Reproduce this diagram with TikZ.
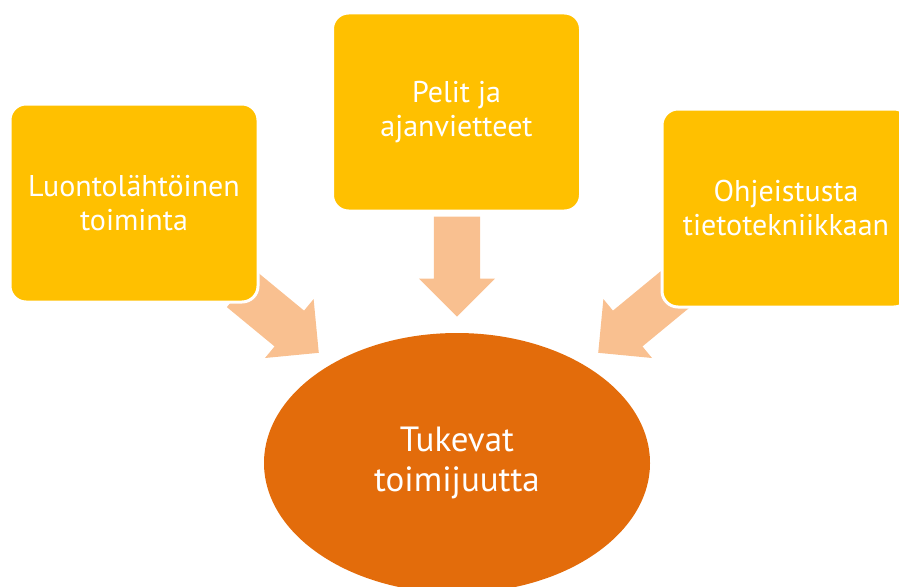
\documentclass[tikz,border=0pt]{standalone}
\usepackage{fontspec}
\setmainfont{PT Sans}
\usetikzlibrary{shapes.geometric, shapes.arrows}
\definecolor{boxyellow}{HTML}{FFC000}
\definecolor{flowpeach}{HTML}{F9C090}
\definecolor{coreorange}{HTML}{E36C0B}

\begin{document}
\begin{tikzpicture}[x=1pt, y=-1pt,
  box/.style={rectangle, rounded corners=16pt, fill=boxyellow, draw=white, line width=3pt,
    minimum width=248pt, minimum height=198pt, align=center, text=white,
    font=\fontsize{30}{34}\selectfont},
  core/.style={ellipse, fill=coreorange, minimum width=386pt, minimum height=260pt,
    align=center, text=white, font=\fontsize{35}{40}\selectfont},
  flow/.style={single arrow, fill=flowpeach, minimum height=100pt,
    single arrow head extend=15pt, single arrow tip angle=90, single arrow head indent=0pt,
    inner xsep=0pt, inner ysep=23pt, anchor=tip}]
  \clip (0,0) rectangle (899,586);
  % arrows
  \node[flow, rotate=-39.5]  (f1) at (319,353) {};
  \node[flow, rotate=-90]    (f2) at (457,317) {};
  \node[flow, rotate=-140.5] (f3) at (598,353) {};
  % boxes
  \node[box] (nature) at (134,203)   {Luontolähtöinen\\toiminta};
  \node[box] (games)  at (456.5,112) {Pelit ja\\ajanvietteet};
  \node[box] (ict)    at (786,208)   {Ohjeistusta\\tietotekniikkaan};
  % centre
  \node[core] (agency) at (457,463) {Tukevat\\toimijuutta};
\end{tikzpicture}
\end{document}
